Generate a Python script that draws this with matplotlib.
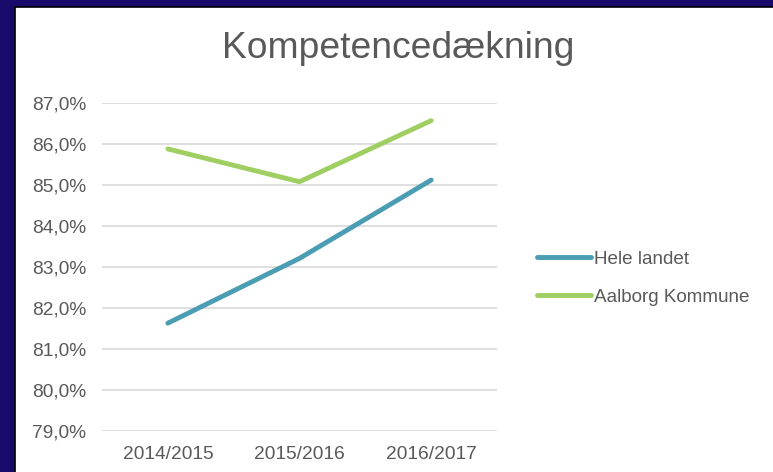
import matplotlib.pyplot as plt
from matplotlib.patches import Rectangle
from matplotlib.ticker import FuncFormatter

plt.rcParams['font.family'] = ['Liberation Sans', 'DejaVu Sans']

years = ['2014/2015', '2015/2016', '2016/2017']
hele_landet = [81.63, 83.21, 85.12]
aalborg = [85.88, 85.08, 86.57]

W, H = 773, 472
fig = plt.figure(figsize=(W / 100, H / 100), dpi=100)
fig.patch.set_facecolor('#170a6a')
fig.patches.append(Rectangle((15 / W, -0.05), 1.1, 1.05 - 7 / H, transform=fig.transFigure,
                             facecolor='white', edgecolor='black', linewidth=1.2, zorder=-5))

ax = fig.add_axes([102 / W, 1 - 431 / H, 395 / W, 328 / H])
ax.set_facecolor('none')
x = range(len(years))
ax.plot(x, hele_landet, color='#4a9db3', lw=3.5, solid_capstyle='round', label='Hele landet')
ax.plot(x, aalborg, color='#9fcf63', lw=3.5, solid_capstyle='round', label='Aalborg Kommune')

ax.set_xlim(-0.5, 2.5)
ax.set_ylim(79, 87)
ax.set_yticks(range(79, 88))
ax.yaxis.set_major_formatter(FuncFormatter(lambda v, p: f'{v:.1f}%'.replace('.', ',')))
ax.set_xticks(list(x))
ax.set_xticklabels(years)
ax.tick_params(length=0, labelsize=13.8, colors='#595959', pad=11.5)
ax.tick_params(axis='x', pad=11)
ax.grid(axis='y', color='#d9d9d9', lw=1.2)
ax.set_axisbelow(True)
for s in ax.spines.values():
    s.set_visible(False)

fig.text(398 / W, 1 - 49 / H, 'Kompetencedækning', ha='center', va='center',
         fontsize=26.8, color='#595959')

ax.legend(loc='center left', bbox_to_anchor=(529 / W, 1 - 278 / H), bbox_transform=fig.transFigure,
          frameon=False, fontsize=13.6, labelcolor='#595959', handlelength=2.9,
          handletextpad=0.15, labelspacing=1.1, borderaxespad=0)

fig.savefig('out.png', dpi=100)
